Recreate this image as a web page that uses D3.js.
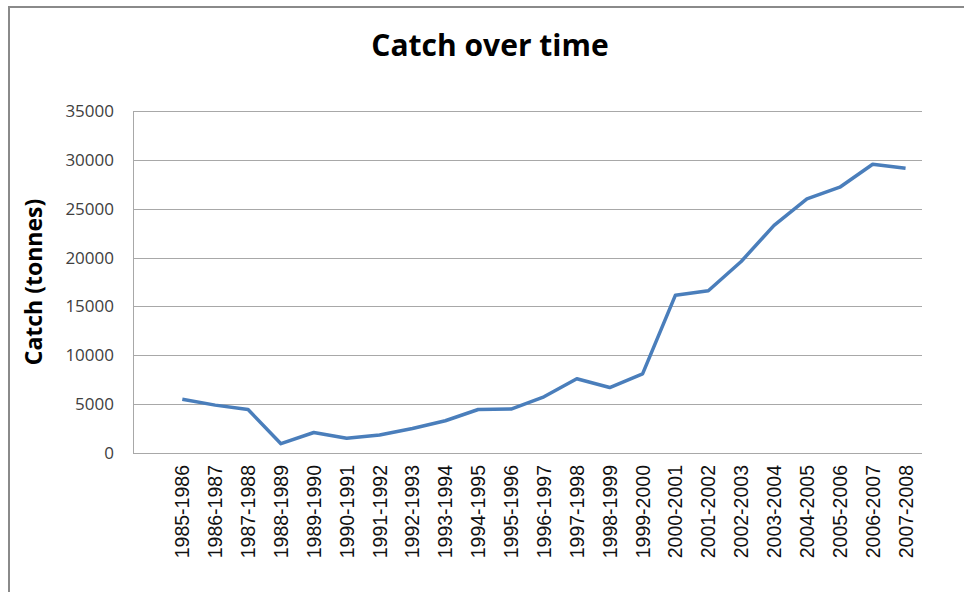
<!DOCTYPE html>
<html>
<head>
<meta charset="utf-8">
<script src="https://cdn.jsdelivr.net/npm/d3@7"></script>
<style>
  body { margin: 0; background: #fff; }
</style>
</head>
<body>
<div id="chart"></div>
<script>
// Seasons and catch (tonnes)
const seasons = ["1985-1986", "1986-1987", "1987-1988", "1988-1989", "1989-1990",
  "1990-1991", "1991-1992", "1992-1993", "1993-1994", "1994-1995", "1995-1996",
  "1996-1997", "1997-1998", "1998-1999", "1999-2000", "2000-2001", "2001-2002",
  "2002-2003", "2003-2004", "2004-2005", "2005-2006", "2006-2007", "2007-2008"];
const catchTonnes = [5500, 4900, 4450, 950, 2100, 1500, 1850, 2500, 3300, 4450, 4500,
  5750, 7600, 6700, 8100, 16150, 16600, 19600, 23300, 26000, 27200, 29550, 29150];
const yTicks = [0, 5000, 10000, 15000, 20000, 25000, 30000, 35000];

const width = 964, height = 592;
const margin = { top: 111, right: 42, bottom: 139, left: 133 };

const svg = d3.select("#chart").append("svg")
    .attr("width", width)
    .attr("height", height);

// outer chart frame (left and top edges only, as in the picture)
svg.append("line").attr("x1", 9).attr("x2", 9).attr("y1", 6).attr("y2", height)
    .style("stroke", "#8a8a8a").style("stroke-width", 2);
svg.append("line").attr("x1", 8).attr("x2", width).attr("y1", 7).attr("y2", 7)
    .style("stroke", "#8a8a8a").style("stroke-width", 2);

// the category axis has one blank slot in front of the first season
const x = d3.scaleBand()
    .domain([""].concat(seasons))
    .range([margin.left, width - margin.right]);

const y = d3.scaleLinear()
    .domain([0, 35000])
    .range([height - margin.bottom, margin.top]);

// Gridlines
svg.append("g")
    .selectAll("line")
    .data(yTicks)
    .enter().append("line")
    .attr("x1", margin.left)
    .attr("x2", width - margin.right)
    .attr("y1", d => Math.round(y(d)) + 0.5)
    .attr("y2", d => Math.round(y(d)) + 0.5)
    .style("stroke", "#a8a8a8")
    .style("stroke-width", 1);

// value axis line
svg.append("line")
    .attr("x1", margin.left + 0.5).attr("x2", margin.left + 0.5)
    .attr("y1", y(35000)).attr("y2", y(0))
    .style("stroke", "#a8a8a8");

// y tick labels
svg.append("g")
    .selectAll("text")
    .data(yTicks)
    .enter().append("text")
    .attr("x", 114)
    .attr("y", d => y(d))
    .attr("dy", "0.35em")
    .attr("text-anchor", "end")
    .style("font-family", "'Open Sans', sans-serif")
    .style("font-size", "17px")
    .style("fill", "#404040")
    .text(d => d);

// x tick labels (rotated)
svg.append("g")
    .selectAll("text")
    .data(seasons)
    .enter().append("text")
    .attr("transform", d => `translate(${x(d) + x.bandwidth() / 2},465) rotate(-90)`)
    .attr("dy", "0.36em")
    .attr("text-anchor", "end")
    .style("font-family", "'Liberation Sans', Arial, sans-serif")
    .style("font-size", "19.5px")
    .style("fill", "#111")
    .text(d => d);

// Catch line
const line = d3.line()
    .x((d, i) => x(seasons[i]) + x.bandwidth() / 2)
    .y(d => y(d));

svg.append("path")
    .datum(catchTonnes)
    .attr("d", line)
    .style("fill", "none")
    .style("stroke", "#4a7ebb")
    .style("stroke-width", 3.5)
    .style("stroke-linejoin", "round");

// Titles
svg.append("text")
    .attr("x", 490)
    .attr("y", 56)
    .attr("text-anchor", "middle")
    .style("font-family", "'Open Sans', sans-serif")
    .style("font-weight", "bold")
    .style("font-size", "30px")
    .style("fill", "#000")
    .text("Catch over time");

svg.append("text")
    .attr("transform", "translate(42,282) rotate(-90)")
    .attr("text-anchor", "middle")
    .style("font-family", "'Open Sans', sans-serif")
    .style("font-weight", "bold")
    .style("font-size", "23px")
    .style("fill", "#000")
    .text("Catch (tonnes)");
</script>
</body>
</html>
